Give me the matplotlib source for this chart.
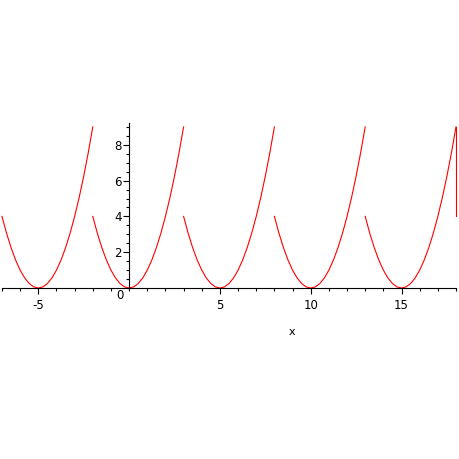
import numpy as np
import matplotlib.pyplot as plt

plt.rcParams['axes.unicode_minus'] = False

# one period of the curve (x relative to start of period)
dx = [0, 0.25, 0.5, 0.75, 1, 1.25, 1.5, 1.75, 2, 2.25, 2.5, 2.75, 3,
      3.25, 3.5, 3.75, 4, 4.25, 4.5, 4.75, 5]
dy = [4, 3.0625, 2.25, 1.5625, 1, 0.5625, 0.25, 0.0625, 0, 0.0625, 0.25,
      0.5625, 1, 1.5625, 2.25, 3.0625, 4, 5.0625, 6.25, 7.5625, 9]
starts = [-7, -2, 3, 8, 13]
end_x = [18, 18]
end_y = [9, 4]

xticks = [-5, 5, 10, 15]
yticks = [2, 4, 6, 8]

fig = plt.figure(figsize=(4.59, 4.59), dpi=100)
ax = fig.add_axes([2/459, 0.3725, 454/459, 0.3588])

for s in starts:
    ax.plot(np.array(dx) + s, dy, color='red', lw=0.8, clip_on=False)
ax.plot(end_x, end_y, color='red', lw=0.8, clip_on=False)

ax.set_xlim(-7, 18)
ax.set_ylim(0, 9.2)

ax.spines['left'].set_position(('data', 0))
ax.spines['bottom'].set_position(('data', 0))
ax.spines['top'].set_visible(False)
ax.spines['right'].set_visible(False)
for sp in ['left', 'bottom']:
    ax.spines[sp].set_linewidth(0.8)
    ax.spines[sp].set_clip_on(False)

ax.set_xticks(xticks)
ax.set_xticks(np.arange(-7, 19, 1), minor=True)
ax.set_yticks(yticks)
ax.set_yticks(np.arange(0, 9.1, 0.5), minor=True)
ax.tick_params(axis='both', which='major', direction='out', length=4,
               width=0.8, labelsize=8.5, pad=1.5)
ax.tick_params(axis='x', which='major', pad=4)
ax.tick_params(axis='both', which='minor', direction='out', length=2.5,
               width=0.8)
ax.patch.set_visible(False)

# the single origin label, sitting just under the x axis
ax.text(-0.28, -0.05, '0', fontsize=8.5, ha='right', va='top')

fig.text(292/459, 1 - 332/459, 'x', fontsize=8, ha='center', va='center')

fig.savefig('out.png', dpi=100)
